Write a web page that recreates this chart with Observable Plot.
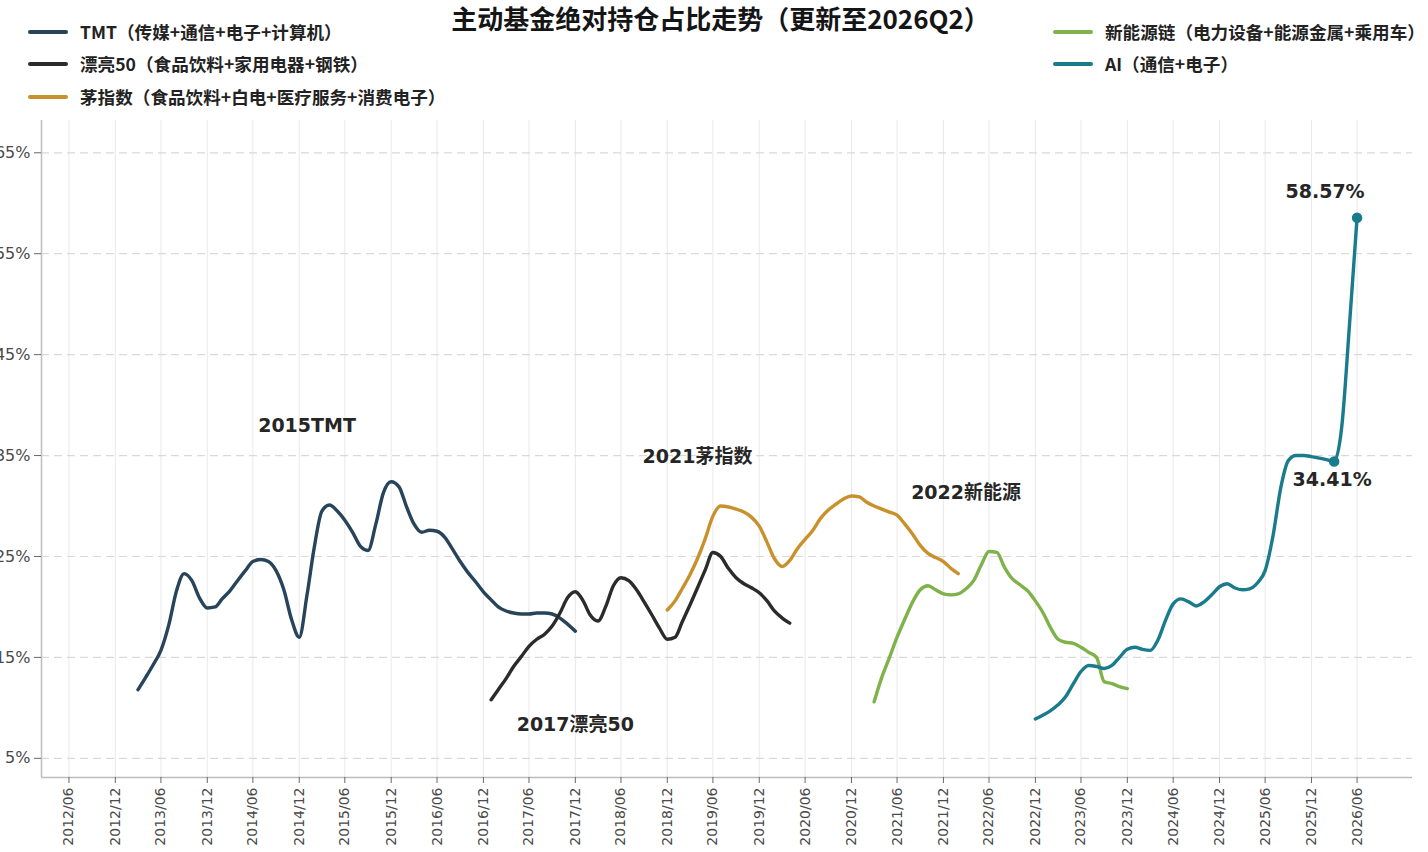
<!DOCTYPE html>
<html>
<head>
<meta charset="utf-8">
<script src="https://cdn.jsdelivr.net/npm/d3@7"></script>
<script src="https://cdn.jsdelivr.net/npm/@observablehq/plot@0.6"></script>
<style>
  body { margin: 0; background: #fff; }
  #head { position: relative; width: 1428px; height: 112px; font-family: "Noto Sans CJK SC", "DejaVu Sans", sans-serif; }
  .title { position: absolute; left: 0; width: 1441px; top: 0px; text-align: center; font-size: 26px; line-height: 36px; font-weight: bold; color: #151515; }
  .leg { position: absolute; height: 24px; line-height: 24px; display: flex; align-items: center; font-size: 17.6px; font-weight: bold; color: #222; white-space: nowrap; }
  .sw { display: inline-block; width: 40px; height: 4px; border-radius: 2px; margin-right: 12px; }
</style>
</head>
<body>
<div id="head"></div>
<div id="chart"></div>
<script>
// ---------------- data (monthly readings, month-end) ----------------
const titleText = "主动基金绝对持仓占比走势（更新至2026Q2）";

const seriesNames = [
  "TMT（传媒+通信+电子+计算机）",
  "漂亮50（食品饮料+家用电器+钢铁）",
  "茅指数（食品饮料+白电+医疗服务+消费电子）",
  "新能源链（电力设备+能源金属+乘用车）",
  "AI（通信+电子）"
];
const seriesColors = ["#27445a", "#2b2b2b", "#c8912c", "#7fb24a", "#1a7b8c"];

const tmtStart = "2013-03";
const tmtValues = [11.8, 13.0, 14.3, 15.7, 18.2, 21.6, 23.3, 22.6, 20.9, 19.9, 20.0, 20.8, 21.6, 22.6, 23.6, 24.5, 24.7, 24.5, 23.6, 21.7, 18.8, 17.0, 21.2, 25.8, 29.5, 30.1, 29.5, 28.6, 27.4, 26.0, 25.6, 28.2, 31.3, 32.4, 31.9, 30.0, 28.2, 27.4, 27.6, 27.5, 26.9, 25.7, 24.5, 23.4, 22.5, 21.5, 20.7, 20.0, 19.6, 19.4, 19.3, 19.3, 19.4, 19.4, 19.3, 18.9, 18.3, 17.6];

const pl50Start = "2017-01";
const pl50Values = [10.8, 11.8, 12.9, 14.1, 15.1, 16.1, 16.8, 17.3, 18.1, 19.4, 20.9, 21.5, 20.6, 19.2, 18.6, 20.0, 22.1, 22.9, 22.6, 21.7, 20.5, 19.2, 17.9, 16.8, 17.0, 18.5, 20.2, 21.9, 23.7, 25.4, 25.0, 23.8, 22.9, 22.3, 21.9, 21.4, 20.6, 19.6, 18.9, 18.4];

const maoStart = "2018-12";
const maoValues = [19.7, 20.6, 21.8, 23.2, 24.8, 26.8, 29.0, 30.0, 29.9, 29.7, 29.4, 28.9, 28.0, 26.4, 24.8, 24.0, 24.6, 25.8, 26.7, 27.6, 28.8, 29.6, 30.2, 30.7, 31.0, 30.9, 30.4, 30.0, 29.7, 29.4, 29.1, 28.2, 27.2, 26.1, 25.3, 24.9, 24.5, 23.8, 23.3];

const nevStart = "2021-03";
const nevValues = [10.6, 13.0, 15.0, 17.0, 18.8, 20.5, 21.7, 22.1, 21.7, 21.3, 21.2, 21.3, 21.8, 22.6, 24.2, 25.5, 25.4, 23.9, 22.8, 22.2, 21.6, 20.6, 19.4, 18.0, 16.8, 16.5, 16.4, 16.0, 15.5, 15.0, 12.6, 12.4, 12.1, 11.9];

const aiStart = "2022-12";
const aiValues = [8.9, 9.3, 9.7, 10.3, 11.1, 12.4, 13.6, 14.2, 14.1, 13.9, 14.2, 15.0, 15.8, 16.0, 15.8, 15.7, 16.7, 18.7, 20.3, 20.8, 20.5, 20.1, 20.5, 21.2, 22.0, 22.3, 21.9, 21.7, 21.8, 22.4, 23.6, 27.0, 31.8, 34.5, 35.0, 35.0, 34.9, 34.75, 34.6, 34.41, 37.8, 48.0, 58.57];

const markDates = ["2026-03", "2026-06"];
const markValues = [34.41, 58.57];

const annoLabels = ["2015TMT", "2017漂亮50", "2021茅指数", "2022新能源"];
const annoDates = ["2015-01", "2017-12", "2019-04", "2022-03"];
const annoValues = [37.9, 8.3, 34.9, 31.3];

const xTickLabels = ["2012/06","2012/12","2013/06","2013/12","2014/06","2014/12","2015/06","2015/12","2016/06","2016/12","2017/06","2017/12","2018/06","2018/12","2019/06","2019/12","2020/06","2020/12","2021/06","2021/12","2022/06","2022/12","2023/06","2023/12","2024/06","2024/12","2025/06","2025/12","2026/06"];
const yTicks = [5, 15, 25, 35, 45, 55, 65];

// ---------------- helpers ----------------
function monthEnd(ym, k = 0) {
  const [y, m] = ym.split(/[-\/]/).map(Number);
  return new Date(Date.UTC(y, m + k, 0));
}
function toRows(start, values) {
  return values.map((v, i) => ({date: monthEnd(start, i), value: v}));
}
const seriesRows = [
  toRows(tmtStart, tmtValues),
  toRows(pl50Start, pl50Values),
  toRows(maoStart, maoValues),
  toRows(nevStart, nevValues),
  toRows(aiStart, aiValues)
];
const markRows = markDates.map((d, i) => ({date: monthEnd(d), value: markValues[i]}));
const annoRows = annoLabels.map((t, i) => ({label: t, date: monthEnd(annoDates[i]), value: annoValues[i]}));
const xTicks = xTickLabels.map(s => monthEnd(s));

// ---------------- header (title + legends) ----------------
const head = document.getElementById("head");
const t = document.createElement("div");
t.className = "title"; t.textContent = titleText; head.appendChild(t);
const legPos = [[28, 20], [28, 52], [28, 85], [1053, 20], [1053, 52]];
seriesNames.forEach((name, i) => {
  const d = document.createElement("div");
  d.className = "leg";
  d.style.left = legPos[i][0] + "px";
  d.style.top = legPos[i][1] + "px";
  const sw = document.createElement("span");
  sw.className = "sw"; sw.style.background = seriesColors[i];
  d.appendChild(sw);
  d.appendChild(document.createTextNode(name));
  head.appendChild(d);
});

// ---------------- chart ----------------
const xDomain = [new Date(Date.UTC(2012, 2, 13)), new Date(Date.UTC(2027, 1, 5))];
const yDomain = [3.1, 68.2];

const lines = seriesRows.map((rows, i) =>
  Plot.line(rows, {x: "date", y: "value", stroke: seriesColors[i], strokeWidth: 3.4, curve: "monotone-x", strokeLinecap: "round", strokeLinejoin: "round"})
);

const chart = Plot.plot({
  width: 1428,
  height: 740,
  marginTop: 8,
  marginLeft: 41,
  marginRight: 16,
  marginBottom: 75,
  style: {fontFamily: "'DejaVu Sans', 'Noto Sans CJK SC', sans-serif", fontSize: "14px", color: "#4a4a4a", background: "#fff"},
  x: {type: "utc", domain: xDomain},
  y: {domain: yDomain},
  marks: [
    Plot.gridX(xTicks, {stroke: "#e9e9e9", strokeOpacity: 1, strokeWidth: 1}),
    Plot.gridY(yTicks, {stroke: "#d9d9d9", strokeOpacity: 1, strokeWidth: 1.2, strokeDasharray: "8,5"}),
    Plot.ruleX([xDomain[0]], {stroke: "#bdbdbd", strokeWidth: 1.5}),
    Plot.ruleY([yDomain[0]], {stroke: "#bdbdbd", strokeWidth: 1.5}),
    Plot.axisX({ticks: xTicks, tickFormat: d3.utcFormat("%Y/%m"), tickRotate: -90, tickSize: 6, tickPadding: 4, fontSize: 14, stroke: "#666", fill: "#4a4a4a", label: null}),
    Plot.axisY({ticks: yTicks, tickFormat: d => d + "%", tickSize: 7, tickPadding: 4, fontSize: 16, stroke: "#666", fill: "#4a4a4a", label: null}),
    ...lines,
    Plot.dot(markRows, {x: "date", y: "value", r: 4.5, fill: seriesColors[4], stroke: seriesColors[4]}),
    Plot.text([markRows[1]], {x: "date", y: "value", text: d => d.value.toFixed(2) + "%", dx: -32, dy: -26, fontSize: 19, fontWeight: "bold", fill: "#262626"}),
    Plot.text([markRows[0]], {x: "date", y: "value", text: d => d.value.toFixed(2) + "%", dx: -2, dy: 18, fontSize: 19, fontWeight: "bold", fill: "#262626"}),
    Plot.text(annoRows, {x: "date", y: "value", text: "label", fontSize: 19, fontWeight: "bold", fill: "#262626"})
  ]
});
document.getElementById("chart").appendChild(chart);
</script>
</body>
</html>
